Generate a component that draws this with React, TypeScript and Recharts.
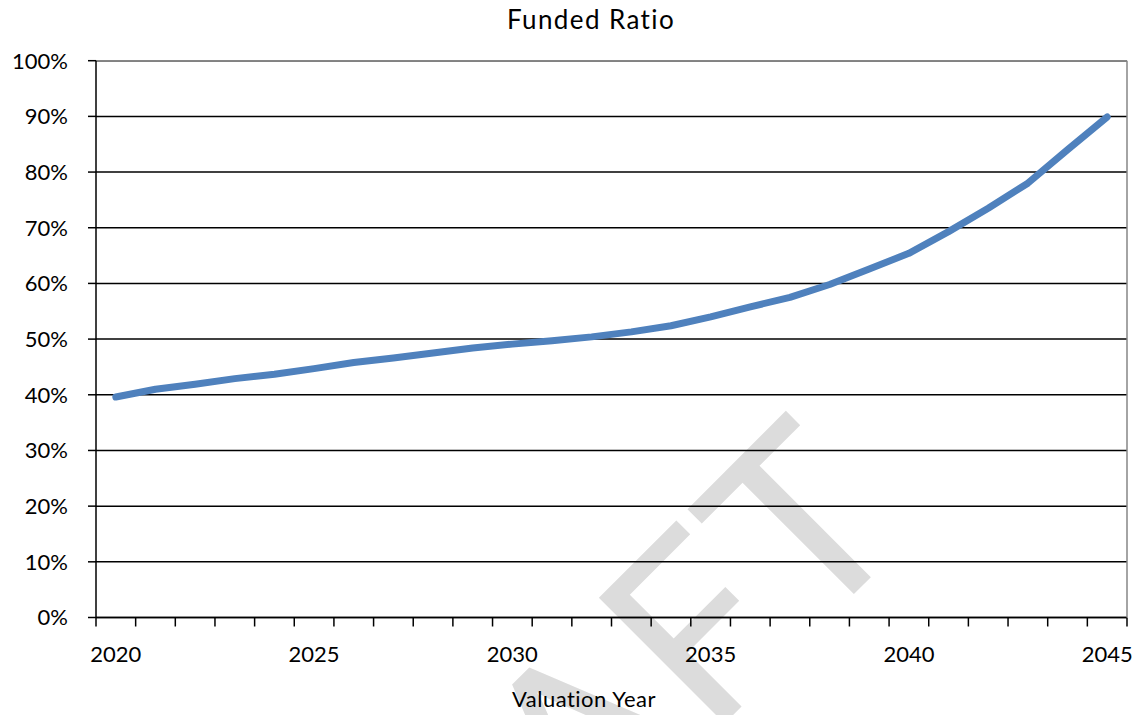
import React from 'react';
import { LineChart, Line, XAxis, YAxis, CartesianGrid } from 'recharts';

const years: number[] = [
  2020, 2021, 2022, 2023, 2024, 2025, 2026, 2027, 2028, 2029, 2030, 2031, 2032,
  2033, 2034, 2035, 2036, 2037, 2038, 2039, 2040, 2041, 2042, 2043, 2044, 2045,
];
const fundedRatio: number[] = [
  39.6, 41.0, 41.9, 42.9, 43.7, 44.7, 45.8, 46.6, 47.5, 48.4, 49.1, 49.7, 50.4,
  51.3, 52.4, 54.0, 55.8, 57.5, 59.8, 62.6, 65.4, 69.3, 73.5, 78.0, 84.0, 89.9,
];
const xLabelYears: number[] = [2020, 2025, 2030, 2035, 2040, 2045];
const yTicks: number[] = [0, 10, 20, 30, 40, 50, 60, 70, 80, 90, 100];
const titleText = 'Funded Ratio';
const xAxisTitle = 'Valuation Year';
const watermarkText = 'DRAFT';

const data = years.map((year, i) => ({ year, ratio: fundedRatio[i] }));
const xDomain: [number, number] = [years[0] - 0.5, years[years.length - 1] + 0.5];
const boundaryTicks: number[] = [...years.map((y) => y - 0.5), years[years.length - 1] + 0.5];

const FONT = 'Lato, "Open Sans", sans-serif';
const W = 1141;
const H = 715;

export default function App() {
  return (
    <div style={{ position: 'absolute', left: 0, top: 0, width: W, height: H, background: '#fff', overflow: 'hidden' }}>
      <svg width={W} height={H} style={{ position: 'absolute', left: 0, top: 0 }}>
        <text
          x={917}
          y={531}
          textAnchor="end"
          transform="rotate(-45 917 531)"
          fontFamily={FONT}
          fontSize={248}
          letterSpacing={4}
          fill="#dcdcdc"
        >
          {watermarkText}
        </text>
        <text x={591} y={29} textAnchor="middle" fontFamily={FONT} fontSize={26} letterSpacing={1.4} fill="#000">
          {titleText}
        </text>
        <text x={584} y={707} textAnchor="middle" fontFamily={FONT} fontSize={22} letterSpacing={0.5} fill="#000">
          {xAxisTitle}
        </text>
      </svg>
      <div style={{ position: 'absolute', left: 0, top: 0 }}>
        <LineChart
          width={W}
          height={H}
          data={data}
          margin={{ top: 59.7, right: 13, bottom: 0, left: 0 }}
          style={{ background: 'transparent' }}
        >
          <CartesianGrid xAxisId="b" yAxisId="left" vertical={false} stroke="#000" strokeWidth={1.5} />
          <XAxis
            xAxisId="b"
            type="number"
            dataKey="year"
            domain={xDomain}
            ticks={boundaryTicks}
            interval={0}
            tickFormatter={() => ''}
            tick={{ fontSize: 1, fill: 'none' }}
            tickSize={9}
            tickLine={{ stroke: '#000', strokeWidth: 1.5 }}
            axisLine={{ stroke: '#000', strokeWidth: 1.5 }}
            height={1}
            allowDataOverflow
          />
          <XAxis
            xAxisId="l"
            type="number"
            dataKey="year"
            domain={xDomain}
            ticks={xLabelYears}
            interval={0}
            axisLine={false}
            tickLine={false}
            tickSize={0}
            tickMargin={28}
            tick={{ fill: '#000', fontSize: 22, fontFamily: FONT }}
            height={96.5}
            allowDataOverflow
          />
          <XAxis
            xAxisId="t"
            orientation="top"
            type="number"
            dataKey="year"
            domain={xDomain}
            tick={false}
            tickLine={false}
            axisLine={{ stroke: '#868686', strokeWidth: 1.5 }}
            height={1}
            allowDataOverflow
          />
          <YAxis
            yAxisId="left"
            type="number"
            domain={[0, 100]}
            ticks={yTicks}
            interval={0}
            tickFormatter={(v: number) => `${v}%`}
            width={96}
            tickSize={8}
            tickMargin={20}
            tick={{ fill: '#000', fontSize: 22, fontFamily: FONT }}
            tickLine={{ stroke: '#000', strokeWidth: 1.5 }}
            axisLine={{ stroke: '#000', strokeWidth: 1.5 }}
          />
          <YAxis
            yAxisId="r"
            orientation="right"
            type="number"
            domain={[0, 100]}
            width={1}
            tick={false}
            tickLine={false}
            axisLine={{ stroke: '#868686', strokeWidth: 1.5 }}
          />
          <Line
            xAxisId="b"
            yAxisId="left"
            type="linear"
            dataKey="ratio"
            stroke="#4f81bd"
            strokeWidth={7}
            strokeLinecap="round"
            strokeLinejoin="round"
            dot={false}
            activeDot={false}
            isAnimationActive={false}
          />
        </LineChart>
      </div>
    </div>
  );
}
